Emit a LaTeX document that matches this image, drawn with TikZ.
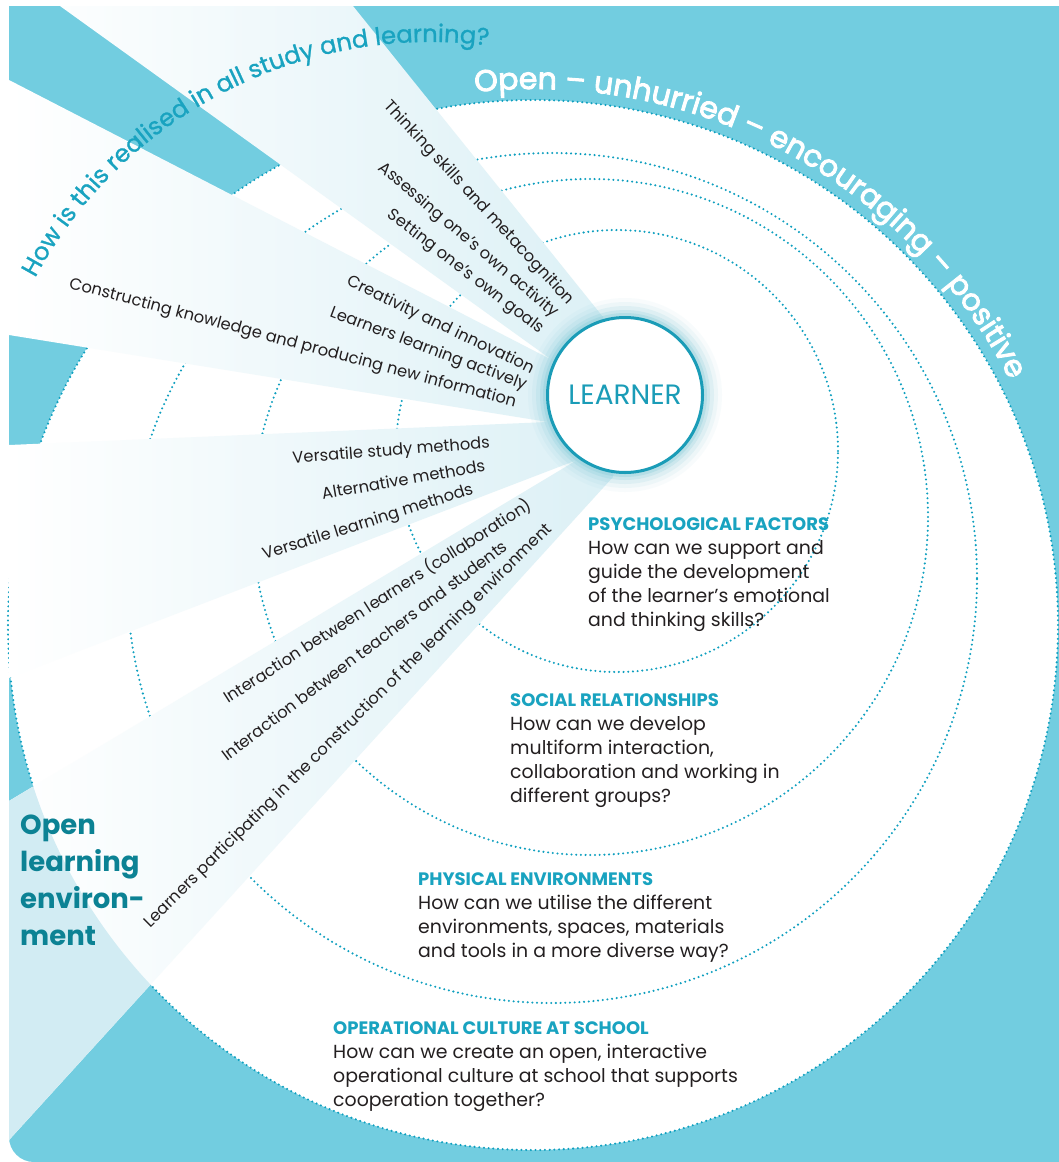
\documentclass[tikz,border=0pt]{standalone}
\usepackage{fontspec}
\setmainfont{Poppins}
\newfontfamily\heavyfam{Poppins}[FakeBold=3]
\newfontfamily\midfam{Poppins}[FakeBold=1]
\usetikzlibrary{decorations.text}
\definecolor{bgcyan}{HTML}{72CDE0}
\definecolor{fanblue}{HTML}{D2ECF3}
\definecolor{dotcol}{HTML}{0E9FBF}
\definecolor{hubcol}{HTML}{1A9CB7}
\definecolor{headcol}{HTML}{19A3C0}
\definecolor{envcol}{HTML}{0C8294}
\definecolor{inkcol}{HTML}{231F20}
\pgfdeclarehorizontalshading{fanfade}{100bp}{color(0bp)=(white); color(25bp)=(white); color(88bp)=(fanblue); color(100bp)=(fanblue)}
\newcommand{\blockfont}{\fontsize{18.9}{23.8}\selectfont}
\newcommand{\headfont}{\fontsize{18}{23.8}\selectfont\bfseries\color{headcol}}
\newcommand{\mottofont}{\heavyfam\fontsize{30}{34}\selectfont}
\newcommand{\askfont}{\midfam\fontsize{24.3}{30}\selectfont}
\tikzset{
ring/.style={draw=dotcol, line width=2.3pt, dash pattern=on 0pt off 4.7pt, line cap=round},
raytext/.style={font=\fontsize{16.3}{20}\selectfont, text=inkcol, inner sep=0pt, anchor=east},
qblock/.style={align=left, anchor=base west, inner sep=0pt, text=inkcol, font=\blockfont},
hubnode/.style={circle, draw=hubcol, line width=3pt, fill=white, minimum size=155pt,
  inner sep=0pt, text=hubcol, font=\fontsize{28}{30}\selectfont}
}

\begin{document}
\begin{tikzpicture}[x=1pt,y=-1pt]
\useasboundingbox (0,0) rectangle (1059,1162);
\coordinate (hub) at (625,395);
\coordinate (disc) at (533,625);
% corners of the rays, on the learner circle
\coordinate (c1) at (603,317);
\coordinate (c2) at (552,360);
\coordinate (c3) at (548,422);
\coordinate (c4) at (577,460);
\coordinate (c5) at (613,477);

% the card
\fill[bgcyan] (9,6) -- (1059,6) -- (1059,1162) -- (34,1162)
  arc[start angle=270, end angle=180, radius=25pt] -- cycle;
\fill[white] (disc) circle[radius=525pt];

% the dotted rings
\foreach \cx/\cy/\r in {617/451/221, 590/517/338, 552/578/425, 533/625/525}
  \draw[ring] (\cx,\cy) circle[radius=\r pt];

% the rays
\shade[shading=fanfade]
  (hub) -- (c1) -- (353,6) -- (60,6) -- (c2) -- cycle
  (hub) -- (c2) -- (9,80) -- (9,335) -- (c3) -- cycle
  (hub) -- (c3) -- (9,445) -- (9,678) -- (c4) -- cycle
  (hub) -- (c4) -- (9,801) -- (9,1140) -- (c5) -- cycle;
\begin{scope}
  \clip (hub) -- (c4) -- (9,801) -- (9,1140) -- (c5) -- cycle;
  \fill[fanblue, even odd rule] (0,0) rectangle (1059,1162) (disc) circle[radius=525pt];
\end{scope}

% learner
\foreach \r/\o in {97/0.05, 93/0.08, 89/0.12, 85/0.18, 82/0.25}
  \fill[hubcol!60, opacity=\o] (hub) circle[radius=\r pt];
\node[hubnode] (learner) at (hub) {LEARNER};

% curved titles
\path[decorate, decoration={text along path, text color=white,
  text={|\mottofont|Open – unhurried – encouraging – positive}}]
  (disc) ++(96.2:536pt) arc[start angle=96.2, end angle=15, radius=536pt];
\path[decorate, decoration={text along path, text color=headcol,
  text={|\askfont|How is this realised in all study and learning?}}]
  (431,492) ++(151.6:450pt) arc[start angle=151.6, end angle=70, radius=450pt];

% texts on the rays
\foreach \ex/\ey/\ang/\txt [count=\i] in {
  571/303/-47.2/Thinking skills and metacognition,
  556/315/-40.3/Assessing one’s own activity,
  542/331/-37.5/Setting one’s own goals,
  533/370/-25.6/Creativity and innovation,
  526/386/-20.5/Learners learning actively,
  516/403/-14.9/Constructing knowledge and producing new information,
  490/444/4.5/Versatile study methods,
  485/465/9.9/Alternative methods,
  473/490/17.5/Versatile learning methods,
  530/503/32.7/Interaction between learners (collaboration),
  505/544/37.1/Interaction between teachers and students,
  550/527/44.7/Learners participating in the construction of the learning environment}
  \node[raytext, rotate=\ang] (ray\i) at (\ex,\ey) {\txt};

% questions in the rings (anchored at the last line)
\node[qblock] (psych) at (588,626) {{\headfont PSYCHOLOGICAL FACTORS}\\How can we support and\\guide the development\\of the learner’s emotional\\and thinking skills?};
\node[qblock] (social) at (510,802) {{\headfont SOCIAL RELATIONSHIPS}\\How can we develop\\multiform interaction,\\collaboration and working in\\different groups?};
\node[qblock] (physical) at (418,957) {{\headfont PHYSICAL ENVIRONMENTS}\\How can we utilise the different\\environments, spaces, materials\\and tools in a more diverse way?};
\node[qblock] (culture) at (333,1106) {{\headfont OPERATIONAL CULTURE AT SCHOOL}\\How can we create an open, interactive\\operational culture at school that supports\\cooperation together?};

\node[qblock, text=envcol, font=\fontsize{27.5}{37}\selectfont\bfseries] (openenv) at (20,945)
  {Open\\learning\\environ-\\ment};
\end{tikzpicture}
\end{document}
